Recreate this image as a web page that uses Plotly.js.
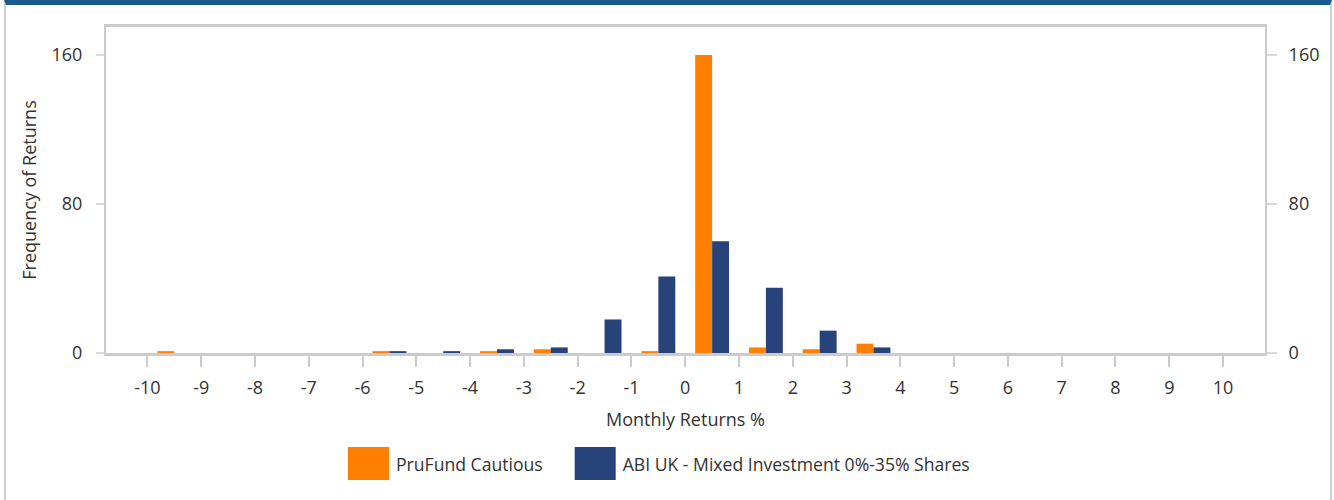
<!DOCTYPE html>
<html>
<head>
<meta charset="utf-8">
<script src="https://cdn.plot.ly/plotly-3.0.1.min.js"></script>
<style>
  body { margin: 0; background: #fff; }
  #wrap {
    position: absolute; left: 4px; top: 0;
    width: 1324px; height: 495px;
    border-top: 5px solid #1d5a8c;
    border-left: 2px solid #cfcfcf;
    border-right: 2px solid #cfcfcf;
  }
  #graph { width: 1324px; height: 495px; }
</style>
</head>
<body>
<div id="wrap"><div id="graph"></div></div>
<script>
// bins of monthly returns (%), centre of each 1% bin
const binCentres = [-9.5, -8.5, -7.5, -6.5, -5.5, -4.5, -3.5, -2.5, -1.5, -0.5,
                    0.5, 1.5, 2.5, 3.5, 4.5, 5.5, 6.5, 7.5, 8.5, 9.5];
const prufund = [1, 0, 0, 0, 1, 0, 1, 2, 0, 1, 160, 3, 2, 5, 0, 0, 0, 0, 0, 0];
const abiMixed = [0, 0, 0, 0, 1, 1, 2, 3, 18, 41, 60, 35, 12, 3, 0, 0, 0, 0, 0, 0];
const xTicks = [-10, -9, -8, -7, -6, -5, -4, -3, -2, -1, 0, 1, 2, 3, 4, 5, 6, 7, 8, 9, 10];
const yTicks = [0, 80, 160];

const gris = '#cbcbcb';
const fuente = {family: 'Open Sans, Noto Sans, sans-serif', size: 18, color: '#333'};
const fuenteLeyenda = {family: 'Open Sans, Noto Sans, sans-serif', size: 17.6, color: '#333'};

const trazas = [
    {
        type: 'bar',
        x: binCentres,
        y: prufund,
        name: 'PruFund Cautious',
        marker: {color: '#ff8000', line: {width: 0}},
        hoverinfo: 'skip'
    },
    {
        type: 'bar',
        x: binCentres,
        y: abiMixed,
        name: 'ABI UK - Mixed Investment 0%-35% Shares',
        marker: {color: '#27437a', line: {width: 0}},
        hoverinfo: 'skip'
    },
    {   // eje derecho, solo para que se dibuje
        type: 'scatter', mode: 'none',
        x: [0], y: [0], yaxis: 'y2',
        showlegend: false, hoverinfo: 'skip'
    }
];

const layout = {
    width: 1324,
    height: 495,
    margin: {l: 100, r: 65, t: 22, b: 147},
    paper_bgcolor: '#fff',
    plot_bgcolor: '#fff',
    font: fuente,
    barmode: 'group',
    bargap: 0.37,
    bargroupgap: 0,
    showlegend: true,
    legend: {
        orientation: 'h',
        x: 0.478, xanchor: 'center',
        y: -0.337, yanchor: 'middle',
        font: fuenteLeyenda,
        itemwidth: 72,
        traceorder: 'normal'
    },
    xaxis: {
        range: [-10.77, 10.78],
        tickvals: xTicks,
        ticktext: xTicks.map(String),
        ticks: 'outside', ticklen: 11, tickwidth: 2, tickcolor: gris,
        showline: true, linecolor: gris, linewidth: 3,
        mirror: true,
        showgrid: false, zeroline: false,
        ticklabelstandoff: 5,
        title: {text: 'Monthly Returns %', font: fuente, standoff: 16},
        fixedrange: true
    },
    yaxis: {
        range: [0, 175],
        tickvals: yTicks,
        ticks: 'outside', ticklen: 8, tickwidth: 2, tickcolor: '#dadada',
        showline: true, linecolor: gris, linewidth: 2,
        showgrid: false, zeroline: false,
        ticklabelstandoff: 10,
        title: {text: 'Frequency of Returns', font: fuente, standoff: 10},
        fixedrange: true
    },
    yaxis2: {
        overlaying: 'y',
        side: 'right',
        range: [0, 175],
        tickvals: yTicks,
        ticks: 'outside', ticklen: 10, tickwidth: 2, tickcolor: '#dadada',
        showline: true, linecolor: gris, linewidth: 2,
        showgrid: false, zeroline: false,
        ticklabelstandoff: 8,
        fixedrange: true
    }
};

const config = {staticPlot: true, responsive: false};

Plotly.newPlot('graph', trazas, layout, config).then(function (gd) {
    // leyenda: cuadrados grandes como en el original
    const items = gd.querySelectorAll('.legend .traces');
    let finAnterior = null;
    items.forEach(function (it) {
        const txt = it.querySelector('text.legendtext');
        // separar los items 80px entre fin de texto y siguiente texto
        if (finAnterior !== null) {
            const dx0 = finAnterior + 80 - txt.getBoundingClientRect().left;
            it.setAttribute('transform', 'translate(' + dx0 + ',0) ' + (it.getAttribute('transform') || ''));
        }
        const tr = txt.getBoundingClientRect();
        finAnterior = tr.right;
        it.querySelectorAll('.legendpoints path').forEach(function (p) {
            p.setAttribute('d', 'M-20.5,-16.5h41v33h-41Z');
            p.removeAttribute('transform');
            const pr = p.getBoundingClientRect();
            const dx = (tr.left - 7 - 20.5) - (pr.left + pr.width / 2);
            const dy = (tr.top + tr.height / 2) - (pr.top + pr.height / 2);
            p.setAttribute('transform', 'translate(' + dx + ',' + dy + ')');
        });
    });
    // colocar la leyenda: primer texto empieza en x=396, centro vertical 463
    const leg = gd.querySelector('g.legend');
    const t0 = items[0].querySelector('text.legendtext').getBoundingClientRect();
    const dxL = 396 - t0.left;
    const dyL = 463.5 - (t0.top + t0.height / 2);
    leg.setAttribute('transform', 'translate(' + dxL + ',' + dyL + ') ' + leg.getAttribute('transform'));
    const clip = gd.querySelector('.legend .scrollbox');
    if (clip) clip.removeAttribute('clip-path');
    const bg = gd.querySelector('.legend .bg');
    if (bg) bg.style.display = 'none';
});
</script>
</body>
</html>
